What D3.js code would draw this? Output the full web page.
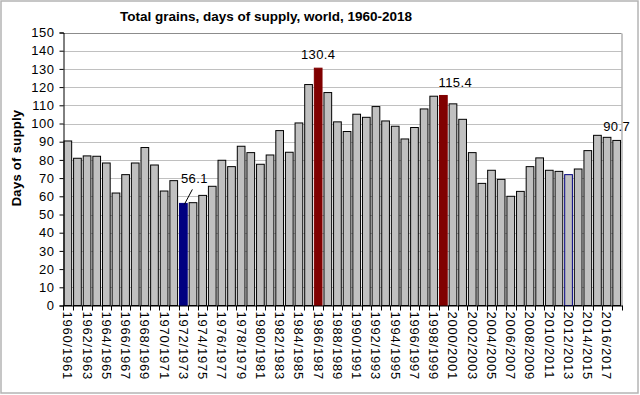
<!DOCTYPE html>
<html>
<head>
<meta charset="utf-8">
<script src="https://cdn.jsdelivr.net/npm/d3@7"></script>
<style>
  body { margin: 0; background: #fff; }
  svg { display: block; font-family: "Liberation Sans", Arial, sans-serif; }
</style>
</head>
<body>
<svg id="chart"></svg>
<script>
// Marketing years, 1960/1961 .. 2017/2018
const seasons = d3.range(1960, 2018).map(y => `${y}/${y + 1}`);

// Days of supply
const daysOfSupply = [
  90.4, 80.9, 82.2, 82.0, 78.3, 61.8, 71.9, 78.3, 86.8, 77.2,
  62.9, 68.6, 56.1, 56.5, 60.5, 65.5, 79.8, 76.3, 87.5, 84.0,
  77.6, 82.7, 96.1, 84.2, 100.3, 121.4, 130.4, 117.0, 100.9, 95.6,
  105.1, 103.4, 109.3, 101.4, 98.5, 91.5, 97.8, 108.0, 115.0, 115.4,
  110.8, 102.3, 84.0, 67.1, 74.3, 69.3, 60.0, 62.7, 76.3, 81.1,
  74.3, 73.7, 71.9, 75.0, 85.1, 93.5, 92.4, 90.7
];

const yTicks = [0, 10, 20, 30, 40, 50, 60, 70, 80, 90, 100, 110, 120, 130, 140, 150];

const highSeasons = ["1986/1987", "1999/2000"];
const lowSeason = "1972/1973";
const outlinedSeason = "2012/2013";
const labelledSeasons = ["1972/1973", "1986/1987", "1999/2000", "2017/2018"];

const width = 640;
const height = 395;
const plot = { left: 63, right: 621.5, top: 32.5, bottom: 305.5 };

const svg = d3.select("#chart")
  .attr("width", width)
  .attr("height", height);

// outer frame
svg.append("rect")
  .attr("x", 1).attr("y", 1)
  .attr("width", width - 3).attr("height", height - 3)
  .attr("fill", "#fff")
  .attr("stroke", "#b4b4b4")
  .attr("stroke-width", 1.5);

const xScale = d3.scaleBand()
  .domain(seasons)
  .range([plot.left, plot.right])
  .paddingInner(0.2)
  .paddingOuter(0.1);

const yScale = d3.scaleLinear()
  .domain([0, 150])
  .range([plot.bottom, plot.top]);

const step = xScale.step();

// gridlines
svg.append("g")
  .selectAll("line")
  .data(yTicks.filter(t => t > 0))
  .enter()
  .append("line")
  .attr("x1", plot.left)
  .attr("x2", plot.right)
  .attr("y1", d => Math.round(yScale(d)) + 0.5)
  .attr("y2", d => Math.round(yScale(d)) + 0.5)
  .attr("stroke", d => d === 150 ? "#8c8c8c" : "#c0c0c0")
  .attr("stroke-width", 1);

// right border of plot area
svg.append("line")
  .attr("x1", plot.right + 0.5).attr("x2", plot.right + 0.5)
  .attr("y1", Math.round(yScale(150)) + 0.5).attr("y2", plot.bottom)
  .attr("stroke", "#8c8c8c");

// bars
svg.append("g")
  .selectAll("rect")
  .data(daysOfSupply)
  .enter()
  .append("rect")
  .attr("x", (d, i) => xScale(seasons[i]))
  .attr("y", d => yScale(d))
  .attr("width", xScale.bandwidth())
  .attr("height", d => yScale(0) - yScale(d))
  .attr("fill", (d, i) => {
    const s = seasons[i];
    if (highSeasons.includes(s)) return "#800000";
    if (s === lowSeason) return "#000080";
    return "#c0c0c0";
  })
  .attr("stroke", (d, i) => {
    const s = seasons[i];
    if (highSeasons.includes(s)) return "#800000";
    if (s === lowSeason || s === outlinedSeason) return "#000080";
    return "#000";
  })
  .attr("stroke-width", 1);

// y axis
const yAxis = d3.axisLeft(yScale)
  .tickValues(yTicks)
  .tickSize(4)
  .tickPadding(5)
  .tickFormat(d3.format("d"));

svg.append("g")
  .attr("transform", `translate(${plot.left + 0.5},0)`)
  .call(yAxis)
  .call(g => g.select(".domain").attr("stroke", "#000"))
  .call(g => g.selectAll(".tick line").attr("stroke", "#000"))
  .call(g => g.selectAll("text")
    .attr("fill", "#000")
    .style("font-size", "13px")
    .style("letter-spacing", "0.5px")
    .style("font-family", "'Liberation Sans', Arial, sans-serif"));

// x axis line and category edge ticks
const xg = svg.append("g");
xg.append("line")
  .attr("x1", plot.left).attr("x2", plot.right + 1)
  .attr("y1", plot.bottom + 0.5).attr("y2", plot.bottom + 0.5)
  .attr("stroke", "#000");

xg.selectAll("line.tick")
  .data(seasons.concat(["end"]))
  .enter()
  .append("line")
  .attr("class", "tick")
  .attr("x1", (d, i) => Math.round(plot.left + i * step) + 0.5)
  .attr("x2", (d, i) => Math.round(plot.left + i * step) + 0.5)
  .attr("y1", plot.bottom)
  .attr("y2", plot.bottom + 5)
  .attr("stroke", "#000");

// rotated category labels, every other season
xg.selectAll("text")
  .data(seasons.filter((s, i) => i % 2 === 0))
  .enter()
  .append("text")
  .attr("transform", d => `translate(${xScale(d) + xScale.bandwidth() / 2},${plot.bottom + 6}) rotate(90)`)
  .attr("dy", "0.35em")
  .attr("text-anchor", "start")
  .style("font-size", "13px")
  .style("letter-spacing", "0.8px")
  .attr("fill", "#000")
  .text(d => d);

// value labels
const labelOffset = { "1972/1973": [11, -20], "1986/1987": [0, -9], "1999/2000": [12, -8], "2017/2018": [0, -9] };
svg.append("g")
  .selectAll("text")
  .data(labelledSeasons)
  .enter()
  .append("text")
  .attr("x", d => xScale(d) + xScale.bandwidth() / 2 + labelOffset[d][0])
  .attr("y", d => yScale(daysOfSupply[seasons.indexOf(d)]) + labelOffset[d][1])
  .attr("text-anchor", "middle")
  .style("font-size", "13px")
  .style("letter-spacing", "0.4px")
  .attr("fill", "#000")
  .text(d => daysOfSupply[seasons.indexOf(d)].toFixed(1));

// leader line for the 1972/1973 label
const low = xScale(lowSeason) + xScale.bandwidth() / 2;
svg.append("line")
  .attr("x1", low + 1)
  .attr("y1", yScale(56.1) + 1)
  .attr("x2", low + 9)
  .attr("y2", yScale(56.1) - 14)
  .attr("stroke", "#000");

// title
svg.append("text")
  .attr("x", 266)
  .attr("y", 21)
  .attr("text-anchor", "middle")
  .style("font-size", "13.5px")
  .style("font-weight", "bold")
  .attr("fill", "#000")
  .text("Total grains, days of supply, world, 1960-2018");

// y axis title
svg.append("text")
  .attr("transform", "translate(21,158) rotate(-90)")
  .attr("text-anchor", "middle")
  .style("font-size", "13px")
  .style("font-weight", "bold")
  .style("letter-spacing", "0.3px")
  .attr("fill", "#000")
  .text("Days of supply");
</script>
</body>
</html>
